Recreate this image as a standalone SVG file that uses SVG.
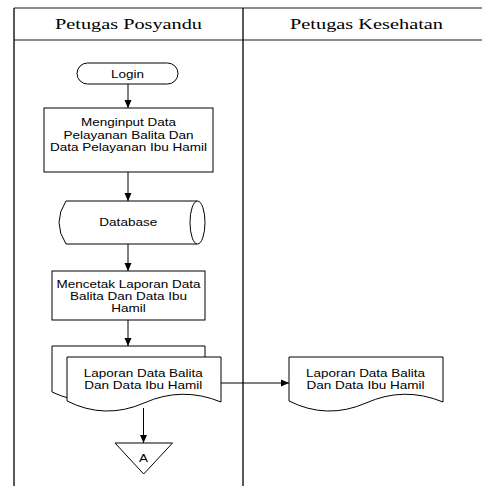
<svg xmlns="http://www.w3.org/2000/svg" width="482" height="486" viewBox="0 0 482 486">
<style>
.lane{stroke:#000;stroke-width:1.3;fill:none}
.hdr{stroke:#666;stroke-width:1.5;fill:none}
.shape{fill:#fff;stroke:#000;stroke-width:1}
.conn{stroke:#000;stroke-width:1;fill:none;marker-end:url(#arr)}
.h{font-family:"Liberation Serif","Times New Roman",serif;font-size:14px;text-anchor:middle;fill:#000}
.t{font-family:"Liberation Sans",Arial,sans-serif;font-size:11.5px;text-anchor:middle;fill:#000}
</style>
<defs>
<marker id="arr" markerUnits="userSpaceOnUse" markerWidth="9" markerHeight="8" refX="8" refY="4" orient="auto">
<path d="M0,0.5 L8,4 L0,7.5 z" fill="#000"/>
</marker>
</defs>
<rect width="482" height="486" fill="#fff"/>
<g id="swimlanes">
<line class="hdr" x1="14" y1="8" x2="482" y2="8"/>
<line class="hdr" x1="14" y1="40" x2="482" y2="40"/>
<line class="lane" x1="14" y1="8" x2="14" y2="486"/>
<line class="lane" x1="243" y1="8" x2="243" y2="486"/>
<text class="h" x="128.5" y="29" textLength="147" lengthAdjust="spacingAndGlyphs">Petugas Posyandu</text>
<text class="h" x="366.5" y="29" textLength="153" lengthAdjust="spacingAndGlyphs">Petugas Kesehatan</text>
</g>
<g id="connectors">
<line class="conn" x1="128" y1="84" x2="128" y2="108"/>
<line class="conn" x1="128" y1="172" x2="128" y2="201"/>
<line class="conn" x1="128" y1="244" x2="128" y2="271"/>
<line class="conn" x1="128" y1="320" x2="128" y2="346"/>
<line class="conn" x1="143.5" y1="408" x2="143.5" y2="443"/>
<line class="conn" x1="221" y1="383" x2="289" y2="383"/>
</g>
<g id="login">
<rect class="shape" x="77" y="63" width="101" height="21" rx="10.5" ry="10.5"/>
<text class="t" x="127.5" y="78" textLength="33" lengthAdjust="spacingAndGlyphs">Login</text>
</g>
<g id="menginput">
<rect class="shape" x="44" y="108" width="169" height="64"/>
<text class="t" x="128.5" y="126" textLength="95" lengthAdjust="spacingAndGlyphs">Menginput Data</text>
<text class="t" x="128.5" y="138.5" textLength="130" lengthAdjust="spacingAndGlyphs">Pelayanan Balita Dan</text>
<text class="t" x="128.5" y="151" textLength="157" lengthAdjust="spacingAndGlyphs">Data Pelayanan Ibu Hamil</text>
</g>
<g id="database">
<path class="shape" d="M197,201 L66,201 Q52,222.5 66,244 L197,244 Z"/>
<ellipse class="shape" cx="197.5" cy="222.5" rx="7.5" ry="21.5"/>
<text class="t" x="128.3" y="226" textLength="58" lengthAdjust="spacingAndGlyphs">Database</text>
</g>
<g id="mencetak">
<rect class="shape" x="52" y="271" width="153" height="49"/>
<text class="t" x="128.5" y="287.5" textLength="144" lengthAdjust="spacingAndGlyphs">Mencetak Laporan Data</text>
<text class="t" x="128.5" y="299.5" textLength="117" lengthAdjust="spacingAndGlyphs">Balita Dan Data Ibu</text>
<text class="t" x="128.5" y="311.5" textLength="34.5" lengthAdjust="spacingAndGlyphs">Hamil</text>
</g>
<g id="laporan-posyandu">
<path class="shape" d="M52,346 L205,346 L205,391 Q166,375 128,392 Q90,410 52,392 Z"/>
<path class="shape" d="M67,357 L221,357 L221,402 Q182,386 144,403 Q105,420 67,401 Z"/>
<text class="t" x="143.3" y="376.5" textLength="119" lengthAdjust="spacingAndGlyphs">Laporan Data Balita</text>
<text class="t" x="143.3" y="388.5" textLength="118" lengthAdjust="spacingAndGlyphs">Dan Data Ibu Hamil</text>
</g>
<g id="konektor-a">
<path class="shape" d="M115,443 L172.5,443 L143.7,474 Z"/>
<text class="t" x="143.5" y="462" textLength="9" lengthAdjust="spacingAndGlyphs">A</text>
</g>
<g id="laporan-kesehatan">
<path class="shape" d="M289,357 L443,357 L443,402 Q404,386 366,403 Q327,420 289,401 Z"/>
<text class="t" x="365.5" y="376.5" textLength="119" lengthAdjust="spacingAndGlyphs">Laporan Data Balita</text>
<text class="t" x="365.5" y="388.5" textLength="118" lengthAdjust="spacingAndGlyphs">Dan Data Ibu Hamil</text>
</g>
</svg>
